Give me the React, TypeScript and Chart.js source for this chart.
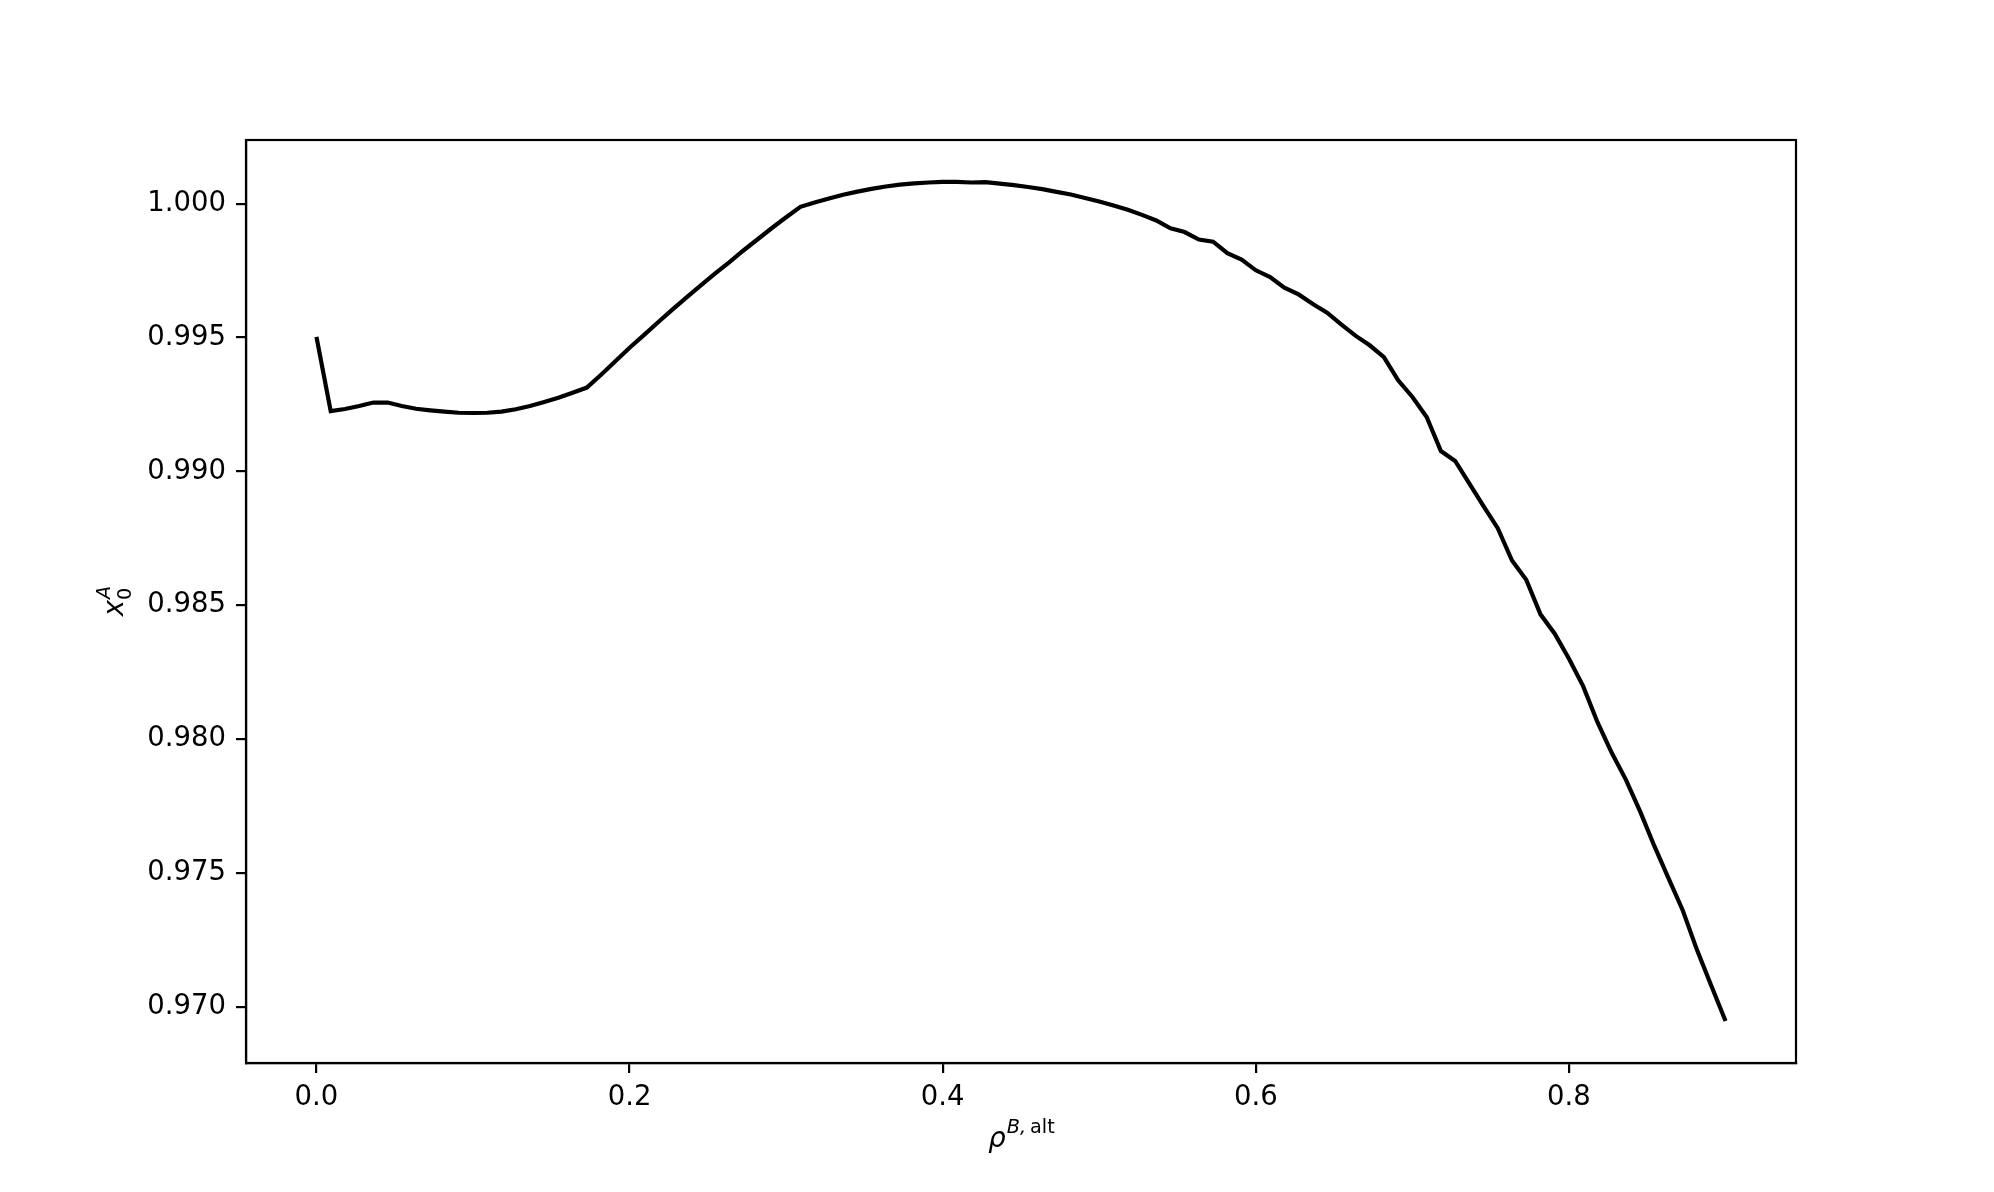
import React, { useEffect, useRef } from "react";
import { Chart, registerables } from "chart.js";

Chart.register(...registerables);

// rho^{B,alt} sample positions (x axis)
const rhoValues: number[] = [
  0.0, 0.0091, 0.0182, 0.0273, 0.0364, 0.0455, 0.0545, 0.0636, 0.0727, 0.0818,
  0.0909, 0.1, 0.1091, 0.1182, 0.1273, 0.1364, 0.1455, 0.1545, 0.1636, 0.1727,
  0.1818, 0.1909, 0.2, 0.2091, 0.2182, 0.2273, 0.2364, 0.2455, 0.2545, 0.2636,
  0.2727, 0.2818, 0.2909, 0.3, 0.3091, 0.3182, 0.3273, 0.3364, 0.3455, 0.3545,
  0.3636, 0.3727, 0.3818, 0.3909, 0.4, 0.4091, 0.4182, 0.4273, 0.4364, 0.4455,
  0.4545, 0.4636, 0.4727, 0.4818, 0.4909, 0.5, 0.5091, 0.5182, 0.5273, 0.5364,
  0.5455, 0.5545, 0.5636, 0.5727, 0.5818, 0.5909, 0.6, 0.6091, 0.6182, 0.6273,
  0.6364, 0.6455, 0.6545, 0.6636, 0.6727, 0.6818, 0.6909, 0.7, 0.7091, 0.7182,
  0.7273, 0.7364, 0.7455, 0.7545, 0.7636, 0.7727, 0.7818, 0.7909, 0.8, 0.8091,
  0.8182, 0.8273, 0.8364, 0.8455, 0.8545, 0.8636, 0.8727, 0.8818, 0.8909, 0.9,
];

// x_0^A values
const x0AValues: number[] = [
  0.99502, 0.99225, 0.99233, 0.99244, 0.99257, 0.99257, 0.99244, 0.99234, 0.99228, 0.99223,
  0.99219, 0.99218, 0.99219, 0.99223, 0.99232, 0.99244, 0.99259, 0.99275, 0.99294, 0.99313,
  0.99361, 0.99411, 0.99462, 0.99509, 0.99557, 0.99604, 0.9965, 0.99695, 0.99739, 0.99781,
  0.99825, 0.99867, 0.99909, 0.99949, 0.99988, 1.00004, 1.00019, 1.00033, 1.00045, 1.00055,
  1.00064, 1.00071, 1.00076, 1.00079, 1.00081, 1.00081, 1.00079, 1.0008, 1.00075, 1.00069,
  1.00062, 1.00054, 1.00044, 1.00034, 1.00021, 1.00008, 0.99993, 0.99977, 0.99958, 0.99937,
  0.99908, 0.99894, 0.99866, 0.99858, 0.99815, 0.99791, 0.99751, 0.99726, 0.99686, 0.99661,
  0.99625, 0.99593, 0.99549, 0.99507, 0.99471, 0.99427, 0.9934, 0.99278, 0.99203, 0.99076,
  0.99039, 0.98954, 0.98869, 0.98788, 0.98667, 0.98595, 0.98466, 0.98394, 0.983, 0.98197,
  0.98063, 0.97949, 0.97848, 0.97729, 0.97601, 0.9748, 0.9736, 0.97212, 0.97079, 0.96947,
];

const xTicks: number[] = [0.0, 0.2, 0.4, 0.6, 0.8];
const yTicks: number[] = [0.97, 0.975, 0.98, 0.985, 0.99, 0.995, 1.0];

const FONT = '"DejaVu Sans", sans-serif';

function margins(vals: number[]): [number, number] {
  const lo = Math.min(...vals);
  const hi = Math.max(...vals);
  const m = (hi - lo) * 0.05;
  return [lo - m, hi + m];
}

const axisLabelsPlugin = {
  id: "axisLabels",
  afterDraw(chart: any) {
    const ctx = chart.ctx as CanvasRenderingContext2D;
    const area = chart.chartArea;
    ctx.save();
    // frame (top/right spines)
    ctx.strokeStyle = "#000";
    ctx.lineWidth = 2.2;
    ctx.strokeRect(area.left, area.top, area.right - area.left, area.bottom - area.top);

    ctx.fillStyle = "#000";
    ctx.textBaseline = "alphabetic";
    ctx.textAlign = "left";
    const main = 27.5;
    const sup = 19.3;

    // x label: rho^{B, alt}
    const fMainIt = `italic ${main}px ${FONT}`;
    const fSupIt = `italic ${sup}px ${FONT}`;
    const fSup = `${sup}px ${FONT}`;
    ctx.font = fMainIt;
    const wRho = ctx.measureText("ρ").width;
    ctx.font = fSupIt;
    const wB = ctx.measureText("B,").width;
    ctx.font = fSup;
    const gap = 4;
    const wAlt = ctx.measureText("alt").width;
    const total = wRho + wB + gap + wAlt;
    const cx = (area.left + area.right) / 2;
    let x = cx - total / 2;
    const base = 1147;
    ctx.font = fMainIt;
    ctx.fillText("ρ", x, base);
    x += wRho + 1;
    ctx.font = fSupIt;
    ctx.fillText("B,", x, base - 14);
    x += wB + gap;
    ctx.font = fSup;
    ctx.fillText("alt", x, base - 14);

    // y label: x_0^A (rotated)
    ctx.save();
    const cy = (area.top + area.bottom) / 2;
    ctx.translate(123.3, cy);
    ctx.rotate(-Math.PI / 2);
    ctx.font = fMainIt;
    const wx = ctx.measureText("x").width;
    ctx.font = fSupIt;
    const wA = ctx.measureText("A").width;
    ctx.font = fSup;
    const w0 = ctx.measureText("0").width;
    const tw = wx + Math.max(wA, w0);
    let yx = -tw / 2;
    ctx.font = fMainIt;
    ctx.fillText("x", yx, 0);
    yx += wx;
    ctx.font = fSupIt;
    ctx.fillText("A", yx + 1, -13);
    ctx.font = fSup;
    ctx.fillText("0", yx, 8);
    ctx.restore();

    ctx.restore();
  },
};

export default function App() {
  const ref = useRef<HTMLCanvasElement | null>(null);

  useEffect(() => {
    if (!ref.current) return;
    const [xMin, xMax] = margins(rhoValues);
    const [yMin, yMax] = margins(x0AValues);
    const points = rhoValues.map((r, i) => ({ x: r, y: x0AValues[i] }));

    const chart = new Chart(ref.current, {
      type: "line",
      data: {
        datasets: [
          {
            data: points,
            borderColor: "#000",
            borderWidth: 4.2,
            pointRadius: 0,
            tension: 0,
            fill: false,
          },
        ],
      },
      options: {
        responsive: false,
        animation: false,
        devicePixelRatio: 1,
        layout: { padding: { top: 140, right: 198, left: 0, bottom: 0 } },
        plugins: { legend: { display: false }, tooltip: { enabled: false } },
        scales: {
          x: {
            type: "linear",
            min: xMin,
            max: xMax,
            afterBuildTicks: (s: any) => {
              s.ticks = xTicks.map((v) => ({ value: v }));
            },
            afterFit: (s: any) => {
              s.height = 129;
            },
            grid: {
              drawOnChartArea: false,
              drawTicks: true,
              tickLength: 10,
              color: "#000",
              lineWidth: 2.2,
            },
            border: { display: true, color: "#000", width: 2.2 },
            ticks: {
              color: "#000",
              font: { family: FONT, size: 27.5 },
              padding: 8,
              maxRotation: 0,
              autoSkip: false,
              callback: (v: any) => Number(v).toFixed(1),
            },
          },
          y: {
            type: "linear",
            min: yMin,
            max: yMax,
            afterBuildTicks: (s: any) => {
              s.ticks = yTicks.map((v) => ({ value: v }));
            },
            afterFit: (s: any) => {
              s.width = 246;
            },
            grid: {
              drawOnChartArea: false,
              drawTicks: true,
              tickLength: 10,
              color: "#000",
              lineWidth: 2.2,
            },
            border: { display: true, color: "#000", width: 2.2 },
            ticks: {
              color: "#000",
              font: { family: FONT, size: 27.5 },
              padding: 10,
              autoSkip: false,
              callback: (v: any) => Number(v).toFixed(3),
            },
          },
        },
      },
      plugins: [axisLabelsPlugin],
    });
    return () => chart.destroy();
  }, []);

  return (
    <div
      style={{
        position: "fixed",
        left: 0,
        top: 0,
        width: 1994,
        height: 1192,
        background: "#fff",
      }}
    >
      <canvas ref={ref} width={1994} height={1192} />
    </div>
  );
}
